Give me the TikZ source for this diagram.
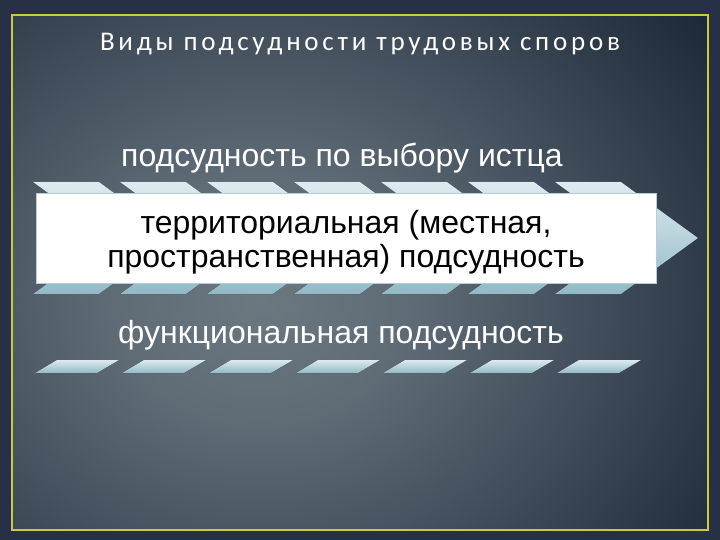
\documentclass[tikz,border=0pt]{standalone}
\usepackage{fontspec}
\setmainfont{Liberation Sans}
\newfontfamily\titlefont[LetterSpace=14]{Carlito}

\definecolor{slideedge}{HTML}{283046}
\definecolor{framecol}{HTML}{C8CB3C}
\definecolor{stripetop}{HTML}{DDEBF0}
\definecolor{stripebot}{HTML}{92B9C6}
\definecolor{boxline}{HTML}{B8CDD5}
\definecolor{bgA}{HTML}{6B7880}
\definecolor{bgB}{HTML}{5F6C76}
\definecolor{bgC}{HTML}{3E4A58}
\definecolor{bgD}{HTML}{1C2835}
\pgfdeclareradialshading{slidebg}{\pgfpoint{0bp}{0bp}}{color(0bp)=(bgA); color(3.5bp)=(bgB); color(8.5bp)=(bgC); color(13.5bp)=(bgD); color(50bp)=(bgD)}

\begin{document}
\begin{tikzpicture}[x=1pt,y=-1pt,
 slideframe/.style ={draw=framecol,line width=2pt},
 chevron/.style ={top color=stripetop,bottom color=stripebot,draw=none},
 funcbar/.style ={top color=stripetop,bottom color=stripebot,draw=none},
 heading/.style ={text=white,font=\titlefont\fontsize{27}{32}\selectfont},
 itemtext/.style ={text=white,font=\fontsize{32}{38}\selectfont},
 mainbox/.style ={fill=white,draw=boxline,line width=1pt,minimum width=620pt,
   minimum height=89pt,inner sep=0pt},
 boxtext/.style ={align=center,inner sep=0pt,font=\fontsize{32}{34}\selectfont}
 ]
\useasboundingbox (0,0) rectangle (720,540);
%draw slide background
\fill[slideedge] (0,0) rectangle (720,540);
\begin{scope}
\clip (12,15) rectangle (708,530);
\shade[shading=slidebg] (260,300) ellipse (1040 and 880);
\end{scope}
\draw[slideframe] (12,15) rectangle (708,530);
%draw title
\node[heading,anchor=base] (title) at (360,51) {Виды подсудности трудовых споров};
%draw first item
\node[itemtext,anchor=base] (choice) at (342,167) {подсудность по выбору истца};
%draw arrow segments
\foreach \i in {0,...,6} {
  \pgfmathsetmacro\xa{33+87*\i}
  \fill[chevron] (\xa,182) -- ++(66,0) -- ++(77,56) -- ++(-77,56) -- ++(-66,0) -- ++(77,-56) -- cycle;
}
%draw main box
\node[mainbox] (territory) at (346,238.5) {};
\node[boxtext] (territoryText) at ([yshift=-4pt]territory.center) {территориальная (местная,\\пространственная) подсудность};
%draw last item
\node[itemtext,anchor=base] (function) at (341,343) {функциональная подсудность};
%draw bars under last item
\foreach \i in {0,...,6} {
  \pgfmathsetmacro\xb{35+87*\i}
  \fill[funcbar] (\xb,373) -- ++(22,-13) -- ++(62,0) -- ++(-22,13) -- cycle;
}
\end{tikzpicture}
\end{document}
